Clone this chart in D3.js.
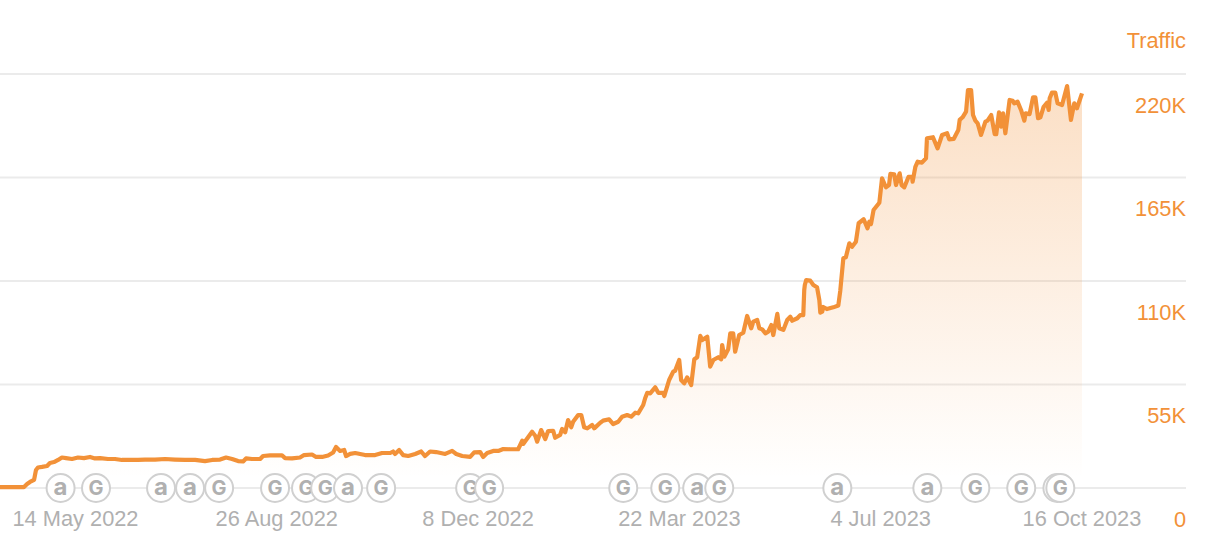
<!DOCTYPE html>
<html><head><meta charset="utf-8">
<script src="https://cdn.jsdelivr.net/npm/d3@7/dist/d3.min.js"></script>
<style>html,body{margin:0;padding:0;background:#fff}svg{display:block}text{font-family:"Liberation Sans",Arial,sans-serif}</style>
</head><body><svg id="c" width="1208" height="538"></svg>
<script>
// days since 5 Apr 2022
const days=[0,12.4,14,15.5,17.6,18.6,19.6,21.7,24.3,25.8,27.9,30,32,34.1,37.2,40.3,43.4,46.5,49.1,51.7,55.8,59.4,63,67.2,71.3,74.9,80.1,85.3,90.4,95.6,100.8,105.9,109.6,113.7,116.8,119.9,123,125.6,127.1,130.2,134.4,
135.9,139.5,145.7,147.3,150.9,155,157.1,161.2,163.3,166.4,169.5,172.1,173.6,175.7,177.8,178.8,180.9,183.5,188.6,193.8,197.4,201.6,203.1,204.1,206.2,208.3,210.9,214.5,217.6,219.6,222.2,225.3,230,233.6,235.7,238.8,242.9,245,248.1,249.6,251.7,254.8,257.4,260,
263.6,267.7,269.8,270.3,274.9,276.5,277.5,279.6,281.7,283.2,285.8,286.8,289.4,290.4,292,293.5,295.1,296.1,298.7,300.3,301.8,303.4,305.9,307,310.1,311.6,314.7,316.8,319.4,321.4,324,326.1,328.2,329.7,332.3,333.3,334.4,335.9,338.5,340.1,342.6,343.2,345.7,347.8,348.8,350.9,351.9,353.5,355,357.1,358.7,360.2,361.8,362.8,365.4,366.9,368.5,371.1,372.6,373.1,374.2,376.2,377.3,378.8,379.8,381.9,384,386,388.1,389.2,391.2,392.3,393.8,395.4,396.9,398.5,399.5,401.6,402.6,404.7,406.7,408.3,409.3,411.9,413.4,415,415.5,415.8,416.5,418.6,420.2,422.1,423.3,423.8,424.8,425.3,427.2,430.5,433.1,434.1,435.7,437,438.8,440.2,442.2,443.6,446.2,448.2,449.1,450,451.3,454.3,455.7,457.7,459.3,460,462,462.9,464.8,465.8,467.2,469.4,471.2,471.5,472.9,474.1,476.3,478.4,478.9,482,484.4,486.7,489.3,490.4,492.7,495.1,495.8,497.3,499.1,500.1,501.7,502.7,503.9,505.1,506.8,509.1,510.2,512.1,513.9,514.7,516.1,517.2,518.2,519.4,521.6,523.2,524,525.7,527.5,529.2,529.9,531.9,533.7,534.9,536.3,537.5,539.2,540.9,541.8,542.3,543.5,545.2,546.4,548.7,551.3,553.3,555,556.4,559];
// traffic, thousands
const traffic=[0.5,0.5,2.1,3.2,4.3,9.6,10.9,11.2,11.7,13.3,13.8,14.9,16.2,15.9,15.4,16.2,15.9,16.5,15.7,15.9,15.4,15.4,14.9,14.9,14.9,15.1,15.1,15.4,15.1,14.9,14.9,14.3,14.9,15.1,16.2,15.4,14.3,14.1,15.7,15.4,15.4,
17,17.3,17.3,15.9,15.7,16.2,17.5,17.8,16.5,16.5,17.3,18.9,21.8,19.7,20.2,17,18.1,18.6,17.5,17.5,18.6,18.6,19.4,18.1,20.2,17.5,17,18.1,19.4,17,19.4,19.1,18.1,19.7,18.1,17,16.5,18.9,19.1,16.5,18.6,19.7,19.7,20.7,
20.6,20.6,25.1,23.4,29.9,27.8,24.6,30.8,26,30.3,30.4,26.7,28.2,31.4,29.6,36.1,32.3,35.2,38.8,38.8,32.3,31.7,33.5,31.7,34.7,35.8,36.5,34,35.2,37.9,38.8,37.9,40,39.7,44.1,47.7,50.6,50.3,53.5,50.6,50.6,48.9,57.4,61.8,62.3,68,57.4,55.6,58.8,54.7,68.4,69.5,80.8,78.6,80.4,64.5,68,69.5,68.4,76,69.8,73.7,82.2,82.2,72.4,81.3,82.5,91.4,84.9,88.4,89.3,84.9,84.3,82.2,83.1,86.6,81.3,92.5,84.9,84,89.3,91,88.9,90.2,91.9,91.9,105.2,107.9,110.5,110.2,107.9,106.7,99.9,93.2,93.7,96.2,95.1,96,97,104.7,122.1,122.6,130,128.2,130.9,140.7,142.8,138,141.5,140.3,147.7,151.6,164.6,159.8,161,166.9,166.7,161,167.2,161,159.8,165.4,165.4,162.8,170.7,173.4,172.9,175.2,185.8,186.4,180.5,187.6,188.5,185.3,185.5,190.2,195.6,197,200,211.5,211.5,198.2,195.2,193.8,187.6,194.7,195.2,198.2,188,188,199.6,192,199.1,188.5,206.2,205.8,204.4,205.3,200.9,195.2,199.1,198.7,207.6,207.6,196.5,197,202.6,204.7,200.9,207.1,210.1,210.1,204.4,203.5,213.6,195.6,204.4,201.8,209.7];
const yTicks=[0,55,110,165,220];
const yTickLabels=["0","55K","110K","165K","220K"];
const xTickDays=[39,143,247,351,455,559];
const xTickLabels=["14 May 2022","26 Aug 2022","8 Dec 2022","22 Mar 2023","4 Jul 2023","16 Oct 2023"];
const eventDays=[31.3,49.6,83.2,98.2,113.2,142.1,158.1,168,179.8,196.9,242.9,252.7,322,343.7,360.2,371.6,432.6,479.1,503.9,527.6,546.3,547.8];
const eventKinds=["a","G","a","a","G","G","G","G","a","G","G","G","G","G","a","G","a","a","G","G","G","G"];

const ORANGE="#f29138",GREY="#b0b0b0";
const svg=d3.select("#c");
const x=d3.scaleLinear().domain([0,559]).range([0,1082]);
const y=d3.scaleLinear().domain([0,220]).range([488,74]);
const pts=days.map((d,i)=>[d,traffic[i]]);

const grad=svg.append("defs").append("linearGradient").attr("id","g").attr("gradientUnits","userSpaceOnUse")
 .attr("x1",0).attr("x2",0).attr("y1",y(220)).attr("y2",y(5));
grad.append("stop").attr("offset",0).attr("stop-color",ORANGE).attr("stop-opacity",.3);
grad.append("stop").attr("offset",1).attr("stop-color",ORANGE).attr("stop-opacity",0);

svg.selectAll("line.grid").data(yTicks).join("line").attr("class","grid")
 .attr("x1",0).attr("x2",1186).attr("y1",d=>y(d)).attr("y2",d=>y(d))
 .attr("stroke","#ebebeb").attr("stroke-width",2);

svg.append("path").datum(pts).attr("fill","url(#g)")
 .attr("d",d3.area().x(d=>x(d[0])).y0(y(0)).y1(d=>y(d[1])));
svg.append("path").datum(pts).attr("fill","none").attr("stroke",ORANGE).attr("stroke-width",4.2)
 .attr("stroke-linejoin","round").attr("d",d3.line().x(d=>x(d[0])).y(d=>y(d[1])));

svg.selectAll("text.yl").data(yTicks).join("text").attr("class","yl")
 .attr("x",1186).attr("y",d=>y(d)+38.5).attr("text-anchor","end")
 .attr("font-size",21.8).attr("fill",ORANGE).text((d,i)=>yTickLabels[i]);
svg.append("text").attr("x",1186).attr("y",48).attr("text-anchor","end").attr("font-size",21.8).attr("fill",ORANGE).text("Traffic");

svg.selectAll("text.xl").data(xTickDays).join("text").attr("class","xl")
 .attr("x",d=>x(d)).attr("y",526).attr("text-anchor","middle")
 .attr("font-size",21.8).attr("fill",GREY).text((d,i)=>xTickLabels[i]);

const ev=svg.selectAll("g.ev").data(eventDays).join("g").attr("class","ev")
 .attr("transform",d=>`translate(${x(d)},${y(0)})`);
ev.append("circle").attr("r",14).attr("fill","#fff").attr("stroke","#d0d0d0").attr("stroke-width",2);
ev.append("text").attr("text-anchor","middle").attr("y",(d,i)=>eventKinds[i]==="a"?6.5:7)
 .attr("font-size",(d,i)=>eventKinds[i]==="a"?24:20).attr("font-weight",700)
 .attr("fill","#b0b0b0").style("font-family","Inter,'Liberation Sans',sans-serif")
 .text((d,i)=>eventKinds[i]);
</script></body></html>
